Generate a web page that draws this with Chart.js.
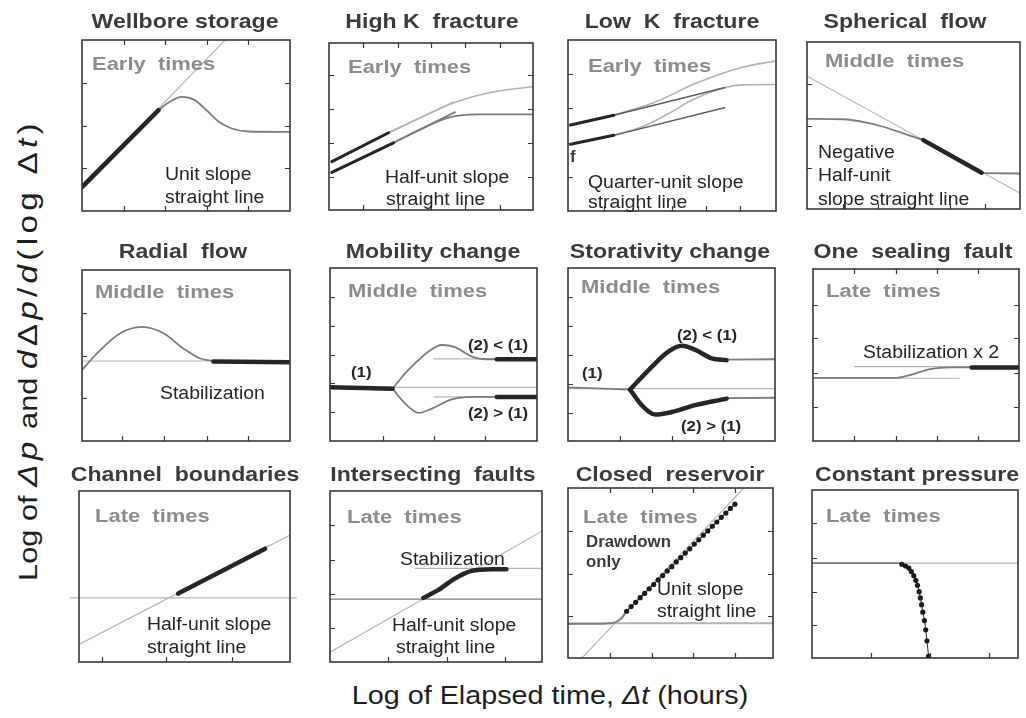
<!DOCTYPE html>
<html>
<head>
<meta charset="utf-8">
<script src="https://cdn.jsdelivr.net/npm/chart.js@4.4.1/dist/chart.umd.min.js"></script>
<style>
  html, body { margin: 0; padding: 0; background: #fff; }
  body { width: 1026px; height: 718px; position: relative; overflow: hidden;
         font-family: "Liberation Sans", Arial, sans-serif; }
  canvas { position: absolute; }
  .axis-title { position: absolute; white-space: nowrap; color: #1e1e1e;
                font-size: 25px; line-height: 1; }
  .axis-title i { font-style: italic; }
  #xTitle { left: 550px; top: 695px; transform: translate(-50%, -50%) scaleX(1.15); }
  #yTitle { left: 28px; top: 350px; transform: translate(-50%, -50%) rotate(-90deg) scaleX(1.23); }
  #yTitle .m { font-size: 27px; letter-spacing: 3.5px; }
</style>
</head>
<body>
<div class="axis-title" id="xTitle">Log of Elapsed time, <i>Δt</i> (hours)</div>
<div class="axis-title" id="yTitle">Log of <span class="m"><i>Δp</i></span> and <span class="m"><i>d</i>Δ<i>p</i>/<i>d</i>(log Δ<i>t</i>)</span></div>
<script>
// Each diagnostic panel uses a log-log frame expressed in decades: x 0–5, y 0–4.

// ---- Tick positions per panel ----
const ticksWellboreX = [1, 2, 3, 4],               ticksWellboreY = [1, 2, 3];
const ticksHighKX = [0.84, 1.69, 2.5, 3.34, 4.19], ticksHighKY = [0.8, 1.61, 2.43, 3.23];
const ticksLowKX = [0.86, 1.68, 2.5, 3.32, 4.14],  ticksLowKY = [0.8, 1.6, 2.4, 3.2];
const ticksSphericalX = [0.85, 1.67, 2.51, 3.35, 4.18], ticksSphericalY = [0.98, 1.99, 2.99];
const ticksRadialX = [0.96, 1.98, 3.0, 4.0],       ticksRadialY = [1, 2, 3];
const ticksMobilityX = [1.29, 2.5, 3.75],          ticksMobilityY = [0.67, 1.33, 2.0, 2.67, 3.34];
const ticksStorativityX = [1.26, 2.5, 3.75],       ticksStorativityY = [0.65, 1.32, 1.99, 2.67, 3.34];
const ticksFaultX = [1, 2.02, 3, 4],               ticksFaultY = [0.79, 1.59, 2.39, 3.17];
const ticksChannelX = [0.55, 2.07, 3.62],          ticksChannelY = [];
const ticksIntersectX = [1.37, 2.75, 4.12],        ticksIntersectY = [0.8, 1.6, 2.38, 3.2];
const ticksClosedX = [1.03, 2.04, 3.06, 4.07],     ticksClosedY = [0.98, 1.98, 2.98];
const ticksConstantX = [1.42, 2.86, 4.29],         ticksConstantY = [0.79, 1.58, 2.39, 3.21];

// ---- Wellbore storage ----
const wellboreUnitSlope = [[0, 0.56], [3.44, 4.0]];
const wellboreEarly = [[0, 0.56], [1.84, 2.36]];
const wellboreHump = [[1.84, 2.36], [2.1, 2.55], [2.4, 2.67], [2.7, 2.6], [3.0, 2.35], [3.3, 2.08], [3.6, 1.93], [4.0, 1.86], [5.0, 1.85]];

// ---- High K fracture ----
const highKUpperEarly = [[0.07, 1.16], [1.46, 1.85]];
const highKUpperLine = [[1.46, 1.85], [3.06, 2.59]];
const highKUpperCurve = [[1.46, 1.85], [2.28, 2.23], [3.06, 2.57], [3.84, 2.79], [5.0, 2.96]];
const highKLowerEarly = [[0.07, 0.9], [1.58, 1.61]];
const highKLowerLine = [[1.58, 1.61], [3.1, 2.35]];
const highKLowerCurve = [[1.58, 1.61], [2.28, 1.95], [2.85, 2.19], [3.18, 2.26], [3.67, 2.29], [5.0, 2.29]];

// ---- Low K fracture ----
const lowKUpperEarly = [[0.06, 2.01], [1.1, 2.24]];
const lowKUpperLine = [[1.1, 2.24], [3.78, 2.89]];
const lowKUpperCurve = [[1.1, 2.24], [2.1, 2.55], [3.06, 2.98], [4.1, 3.34], [4.98, 3.51]];
const lowKLowerEarly = [[0.06, 1.56], [1.1, 1.77]];
const lowKLowerLine = [[1.1, 1.77], [3.78, 2.42]];
const lowKLowerCurve = [[1.1, 1.77], [1.78, 1.97], [2.42, 2.28], [3.06, 2.63], [3.78, 2.89], [4.18, 2.95], [4.98, 2.96]];

// ---- Spherical flow ----
const sphericalLine = [[0, 3.18], [5, 0.38]];
const sphericalCurve = [[0, 2.16], [0.85, 2.15], [1.4, 2.07], [1.79, 1.97], [2.26, 1.81], [2.73, 1.65]];
const sphericalMiddle = [[2.73, 1.65], [4.1, 0.87]];
const sphericalLate = [[4.1, 0.86], [5, 0.85]];

// ---- Radial flow ----
const radialStab = [[0, 1.87], [5, 1.87]];
const radialHump = [[0, 1.66], [0.36, 2.05], [0.92, 2.52], [1.44, 2.67], [1.96, 2.52], [2.44, 2.16], [2.84, 1.93], [3.16, 1.87]];
const radialMiddle = [[3.16, 1.86], [5, 1.84]];

// ---- Mobility change ----
const mobilityBase = [[0, 1.24], [5, 1.24]];
const mobilityEarly = [[0, 1.24], [1.51, 1.21]];
const mobilityUpper = [[1.51, 1.21], [1.81, 1.56], [2.06, 1.8], [2.38, 2.07], [2.7, 2.22], [3.02, 2.17], [3.43, 1.95], [3.75, 1.89], [4.03, 1.89]];
const mobilityUpperStab = [[2.5, 1.9], [5, 1.9]];
const mobilityUpperLate = [[4.03, 1.89], [5, 1.89]];
const mobilityLower = [[1.51, 1.21], [1.81, 0.87], [2.14, 0.65], [2.46, 0.75], [2.94, 0.96], [3.43, 1.02], [4.03, 1.02]];
const mobilityLowerStab = [[2.5, 1.02], [5, 1.02]];
const mobilityLowerLate = [[4.03, 1.02], [5, 1.02]];

// ---- Storativity change ----
const storativityBase = [[0, 1.21], [5, 1.21]];
const storativityEarly = [[0, 1.24], [1.5, 1.19]];
const storativityUpper = [[1.5, 1.19], [2.03, 1.72], [2.43, 2.07], [2.75, 2.2], [3.07, 2.11], [3.47, 1.91], [3.83, 1.87]];
const storativityUpperLate = [[3.83, 1.88], [5, 1.89]];
const storativityLower = [[1.5, 1.19], [1.78, 0.83], [2.11, 0.61], [2.51, 0.67], [3.07, 0.83], [3.83, 0.98]];
const storativityLowerLate = [[3.83, 0.99], [5, 1.0]];

// ---- One sealing fault ----
const faultStab = [[0, 1.46], [3.56, 1.46]];
const faultDoubleStab = [[1.0, 1.73], [5, 1.73]];
const faultCurve = [[0, 1.47], [2.03, 1.47], [2.35, 1.53], [2.84, 1.67], [3.32, 1.71], [3.85, 1.71]];
const faultLate = [[3.85, 1.71], [5, 1.71]];

// ---- Channel boundaries ----
const channelStab = [[-0.22, 1.5], [5.16, 1.5]];
const channelHalfSlope = [[0, 0.41], [5, 2.97]];
const channelLate = [[2.35, 1.6], [4.41, 2.65]];

// ---- Intersecting faults ----
const intersectStab = [[0, 1.47], [5, 1.47]];
const intersectStab2 = [[2.0, 2.19], [5, 2.19]];
const intersectHalfSlope = [[0, 0.23], [5, 3.06]];
const intersectLate = [[2.2, 1.5], [2.55, 1.68], [2.94, 1.95], [3.34, 2.13], [3.81, 2.17], [4.16, 2.17]];

// ---- Closed reservoir ----
const closedStab = [[0, 0.82], [5, 0.82]];
const closedUnitSlope = [[0.34, 0], [4.29, 4]];
const closedCurve = [[0, 0.8], [0.91, 0.81], [1.15, 0.84], [1.31, 0.93], [1.43, 1.1]];
const closedLate = [[1.43, 1.10], [1.54, 1.21], [1.65, 1.31], [1.76, 1.42], [1.87, 1.52], [1.98, 1.63], [2.09, 1.73],
  [2.20, 1.84], [2.31, 1.94], [2.42, 2.05], [2.53, 2.15], [2.64, 2.26], [2.75, 2.36], [2.86, 2.47], [2.97, 2.57],
  [3.08, 2.68], [3.19, 2.78], [3.30, 2.89], [3.41, 2.99], [3.52, 3.10], [3.63, 3.20], [3.74, 3.31], [3.85, 3.41],
  [3.96, 3.52], [4.07, 3.62]];

// ---- Constant pressure ----
const constantStab = [[0, 2.26], [5, 2.26]];
const constantCurve = [[0, 2.26], [2.15, 2.26]];
const constantLate = [[2.18, 2.23], [2.27, 2.19], [2.35, 2.14], [2.41, 2.06], [2.47, 1.96], [2.52, 1.85], [2.56, 1.73],
  [2.60, 1.58], [2.63, 1.43], [2.66, 1.27], [2.69, 1.09], [2.73, 0.89], [2.76, 0.67], [2.79, 0.41], [2.83, 0.04]];

// ---- Drawing styles ----
const FONT = '"Liberation Sans", Arial, sans-serif';
const LINE_STYLE = {
  ref:   { color: '#b4b4b4', width: 1.1 },
  light: { color: '#b2b2b2', width: 1.6 },
  curve: { color: '#7c7c7c', width: 1.8 },
  dark:  { color: '#5c5c5c', width: 1.4 },
  thick: { color: '#262626', width: 4.5 },
  dots:  { color: '#3a3a3a', width: 1.1 }
};
const TEXT_STYLE = {
  title: { font: 'bold 21px ' + FONT, color: '#3b3b3b', sx: 1.1, align: 'center' },
  phase: { font: 'bold 18px ' + FONT, color: '#8c8c8c', sx: 1.22, align: 'left' },
  note:  { font: '18px ' + FONT,      color: '#262626', sx: 1.08, align: 'left' },
  mark:  { font: 'bold 15px ' + FONT, color: '#262626', sx: 1.12, align: 'left' },
  bold:  { font: 'bold 16px ' + FONT, color: '#3a3a3a', sx: 1.05, align: 'left' }
};

// Panel layout: frame box [left, top, right, bottom] in page pixels; texts in page pixels.
// Series are listed bottom layer first.
const PANELS = [
  { box: [82, 40, 290, 211], xt: ticksWellboreX, yt: ticksWellboreY, mirror: true,
    series: [
      { data: wellboreUnitSlope, style: 'ref' },
      { data: wellboreHump, style: 'curve', smooth: true },
      { data: wellboreEarly, style: 'thick' }
    ],
    texts: [
      ['Wellbore storage', 185, 22, 'title'], ['Early  times', 92, 65, 'phase'],
      ['Unit slope', 165, 175, 'note'], ['straight line', 165, 198, 'note']
    ] },
  { box: [329, 43, 533, 210], xt: ticksHighKX, yt: ticksHighKY, mirror: true,
    series: [
      { data: highKUpperLine, style: 'light' },
      { data: highKUpperCurve, style: 'light', smooth: true },
      { data: highKLowerLine, style: 'curve' },
      { data: highKLowerCurve, style: 'curve', smooth: true },
      { data: highKUpperEarly, style: 'thick', w: 3 },
      { data: highKLowerEarly, style: 'thick', w: 3 }
    ],
    texts: [
      ['High K  fracture', 432, 22, 'title'], ['Early  times', 348, 68, 'phase'],
      ['Half-unit slope', 385, 178, 'note'], ['straight line', 386, 200, 'note']
    ] },
  { box: [568, 40, 776, 211], xt: ticksLowKX, yt: ticksLowKY, mirror: false,
    series: [
      { data: lowKUpperCurve, style: 'light', smooth: true },
      { data: lowKLowerCurve, style: 'light', smooth: true },
      { data: lowKUpperLine, style: 'dark' },
      { data: lowKLowerLine, style: 'dark' },
      { data: lowKUpperEarly, style: 'thick', w: 3 },
      { data: lowKLowerEarly, style: 'thick', w: 3 }
    ],
    texts: [
      ['Low  K  fracture', 672, 22, 'title'], ['Early  times', 588, 67, 'phase'],
      ['f', 570, 158, 'bold'],
      ['Quarter-unit slope', 588, 183, 'note'], ['straight line', 588, 203, 'note']
    ] },
  { box: [807, 42, 1020, 209], xt: ticksSphericalX, yt: ticksSphericalY, mirror: false,
    series: [
      { data: sphericalLine, style: 'ref' },
      { data: sphericalCurve, style: 'curve', smooth: true },
      { data: sphericalLate, style: 'curve' },
      { data: sphericalMiddle, style: 'thick' }
    ],
    texts: [
      ['Spherical  flow', 905, 22, 'title'], ['Middle  times', 825, 62, 'phase'],
      ['Negative', 818, 153, 'note'], ['Half-unit', 818, 176, 'note'], ['slope straight line', 818, 200, 'note']
    ] },
  { box: [82, 270, 290, 441], xt: ticksRadialX, yt: ticksRadialY, mirror: false,
    series: [
      { data: radialStab, style: 'ref' },
      { data: radialHump, style: 'curve', smooth: true },
      { data: radialMiddle, style: 'thick' }
    ],
    texts: [
      ['Radial  flow', 183, 252, 'title'], ['Middle  times', 95, 293, 'phase'],
      ['Stabilization', 160, 394, 'note']
    ] },
  { box: [330, 268, 537, 441], xt: ticksMobilityX, yt: ticksMobilityY, mirror: false,
    series: [
      { data: mobilityBase, style: 'ref' },
      { data: mobilityUpperStab, style: 'ref' },
      { data: mobilityLowerStab, style: 'ref' },
      { data: mobilityUpper, style: 'curve', smooth: true },
      { data: mobilityLower, style: 'curve', smooth: true },
      { data: mobilityEarly, style: 'thick' },
      { data: mobilityUpperLate, style: 'thick' },
      { data: mobilityLowerLate, style: 'thick' }
    ],
    texts: [
      ['Mobility change', 433, 252, 'title'], ['Middle  times', 348, 292, 'phase'],
      ['(1)', 351, 373, 'mark'], ['(2) < (1)', 468, 346, 'mark'], ['(2) > (1)', 468, 414, 'mark']
    ] },
  { box: [568, 268, 775, 441], xt: ticksStorativityX, yt: ticksStorativityY, mirror: false,
    series: [
      { data: storativityBase, style: 'ref' },
      { data: storativityEarly, style: 'curve' },
      { data: storativityUpperLate, style: 'curve' },
      { data: storativityLowerLate, style: 'curve' },
      { data: storativityUpper, style: 'thick', smooth: true },
      { data: storativityLower, style: 'thick', smooth: true }
    ],
    texts: [
      ['Storativity change', 670, 252, 'title'], ['Middle  times', 581, 288, 'phase'],
      ['(1)', 582, 374, 'mark'], ['(2) < (1)', 677, 336, 'mark'], ['(2) > (1)', 681, 427, 'mark']
    ] },
  { box: [813, 269, 1019, 441], xt: ticksFaultX, yt: ticksFaultY, mirror: true,
    series: [
      { data: faultStab, style: 'ref' },
      { data: faultDoubleStab, style: 'ref' },
      { data: faultCurve, style: 'curve', smooth: true },
      { data: faultLate, style: 'thick' }
    ],
    texts: [
      ['One  sealing  fault', 913, 252, 'title'], ['Late  times', 826, 292, 'phase'],
      ['Stabilization x 2', 863, 353, 'note']
    ] },
  { box: [79, 491, 290, 662], xt: ticksChannelX, yt: ticksChannelY, mirror: false,
    series: [
      { data: channelStab, style: 'ref', free: true },
      { data: channelHalfSlope, style: 'ref' },
      { data: channelLate, style: 'thick' }
    ],
    texts: [
      ['Channel  boundaries', 185, 475, 'title'], ['Late  times', 95, 517, 'phase'],
      ['Half-unit slope', 147, 625, 'note'], ['straight line', 147, 648, 'note']
    ] },
  { box: [330, 491, 542, 662], xt: ticksIntersectX, yt: ticksIntersectY, mirror: false,
    series: [
      { data: intersectStab, style: 'curve', w: 1.3 },
      { data: intersectStab2, style: 'ref' },
      { data: intersectHalfSlope, style: 'ref' },
      { data: intersectLate, style: 'thick', smooth: true }
    ],
    texts: [
      ['Intersecting  faults', 433, 475, 'title'], ['Late  times', 347, 518, 'phase'],
      ['Stabilization', 400, 560, 'note'],
      ['Half-unit slope', 392, 626, 'note'], ['straight line', 396, 648, 'note']
    ] },
  { box: [568, 488, 773, 658], xt: ticksClosedX, yt: ticksClosedY, mirror: true,
    series: [
      { data: closedStab, style: 'light', w: 2 },
      { data: closedUnitSlope, style: 'ref' },
      { data: closedCurve, style: 'curve', smooth: true },
      { data: closedLate, style: 'dots' }
    ],
    texts: [
      ['Closed  reservoir', 670, 475, 'title'], ['Late  times', 583, 518, 'phase'],
      ['Drawdown', 586, 543, 'bold'], ['only', 586, 563, 'bold'],
      ['Unit slope', 657, 590, 'note'], ['straight line', 657, 612, 'note']
    ] },
  { box: [812, 490, 1018, 658], xt: ticksConstantX, yt: ticksConstantY, mirror: false,
    series: [
      { data: constantStab, style: 'ref' },
      { data: constantCurve, style: 'curve' },
      { data: constantLate, style: 'dots', smooth: true }
    ],
    texts: [
      ['Constant pressure', 917, 475, 'title'], ['Late  times', 826, 517, 'phase']
    ] }
];

const PAD = 12, PAD_TOP = 36;

function drawText(ctx, str, x, y, st) {
  ctx.save();
  ctx.font = st.font;
  ctx.fillStyle = st.color;
  ctx.textBaseline = 'middle';
  ctx.textAlign = 'left';
  const w = ctx.measureText(str).width * st.sx;
  const x0 = st.align === 'center' ? x - w / 2 : x;
  ctx.translate(x0, y);
  ctx.scale(st.sx, 1);
  ctx.fillText(str, 0, 0);
  ctx.restore();
}

function makeFramePlugin(panel) {
  return {
    id: 'panelFrame',
    afterDatasetsDraw(chart) {
      const { ctx, chartArea: a, scales: { x, y } } = chart;
      ctx.save();
      ctx.strokeStyle = '#383838';
      ctx.lineWidth = 1.6;
      ctx.strokeRect(a.left, a.top, a.right - a.left, a.bottom - a.top);
      ctx.lineWidth = 1.2;
      ctx.beginPath();
      panel.xt.forEach(v => {
        const px = Math.round(x.getPixelForValue(v)) + 0.5;
        ctx.moveTo(px, a.bottom); ctx.lineTo(px, a.bottom - 5);
        if (panel.mirror) { ctx.moveTo(px, a.top); ctx.lineTo(px, a.top + 5); }
      });
      panel.yt.forEach(v => {
        const py = Math.round(y.getPixelForValue(v)) + 0.5;
        ctx.moveTo(a.left, py); ctx.lineTo(a.left + 5, py);
        if (panel.mirror) { ctx.moveTo(a.right, py); ctx.lineTo(a.right - 5, py); }
      });
      ctx.stroke();
      ctx.restore();
      // labels are placed relative to the frame's top-left corner
      const [bl, bt] = panel.box;
      panel.texts.forEach(([str, px, py, kind]) => {
        drawText(ctx, str, a.left + (px - bl), a.top + (py - bt), TEXT_STYLE[kind]);
      });
    }
  };
}

function buildDataset(s) {
  const st = LINE_STYLE[s.style];
  const isDots = s.style === 'dots';
  const ds = {
    data: s.data.map(p => ({ x: p[0], y: p[1] })),
    borderColor: st.color,
    borderWidth: s.w || st.width,
    pointRadius: isDots ? 2.6 : 0,
    pointBackgroundColor: '#1c1c1c',
    pointBorderWidth: 0,
    pointHoverRadius: 0,
    cubicInterpolationMode: s.smooth ? 'monotone' : 'default',
    tension: 0,
    fill: false,
    borderCapStyle: s.style === 'thick' ? 'round' : 'butt',
    borderJoinStyle: 'round'
  };
  if (s.free) ds.clip = false;
  return ds;
}

PANELS.forEach(panel => {
  const [l, t, r, b] = panel.box;
  const cv = document.createElement('canvas');
  cv.width = (r - l) + 2 * PAD;
  cv.height = (b - t) + PAD_TOP + PAD;
  cv.style.left = (l - PAD) + 'px';
  cv.style.top = (t - PAD_TOP) + 'px';
  document.body.appendChild(cv);
  // Chart.js paints the first dataset on top, so hand the layers over top-first.
  const datasets = panel.series.map(buildDataset).reverse();
  new Chart(cv, {
    type: 'line',
    data: { datasets },
    options: {
      responsive: false,
      animation: false,
      devicePixelRatio: 1,
      events: [],
      layout: { padding: { left: PAD, right: PAD, top: PAD_TOP, bottom: PAD } },
      plugins: { legend: { display: false }, tooltip: { enabled: false }, title: { display: false } },
      scales: {
        x: { type: 'linear', min: 0, max: 5, display: false },
        y: { type: 'linear', min: 0, max: 4, display: false }
      }
    },
    plugins: [makeFramePlugin(panel)]
  });
});
</script>
</body>
</html>
